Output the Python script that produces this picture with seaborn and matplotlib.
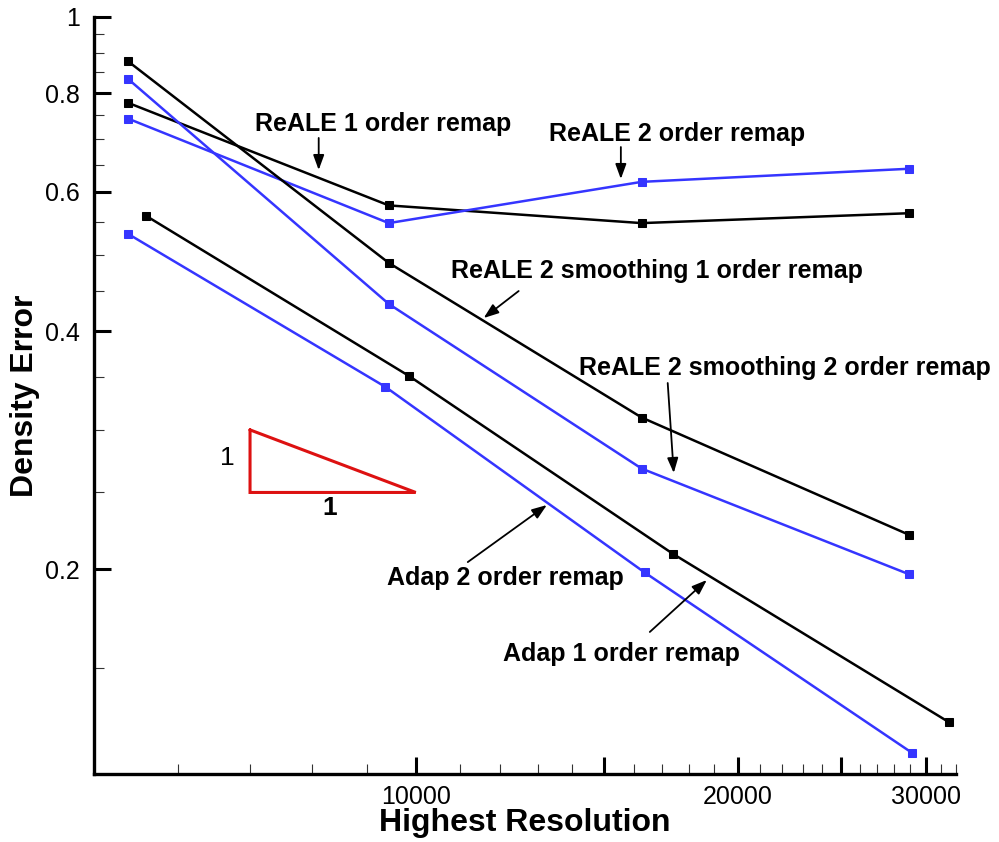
import matplotlib
matplotlib.use("Agg")
import matplotlib.pyplot as plt
from matplotlib.ticker import FixedLocator, NullFormatter, FixedFormatter
import seaborn as sns
import pandas as pd

# ---------------- data ----------------
x_reale = [5384, 9436, 16262, 28910]
x_adap1 = [5593, 9857, 17400, 31510]
x_adap2 = [5384, 9369, 16368, 29120]

reale_1 = [0.778, 0.577, 0.548, 0.564]
reale_2 = [0.743, 0.548, 0.618, 0.642]
reale_smooth_1 = [0.878, 0.488, 0.311, 0.221]
reale_smooth_2 = [0.834, 0.433, 0.268, 0.197]
adap_1 = [0.560, 0.351, 0.209, 0.128]
adap_2 = [0.531, 0.340, 0.198, 0.117]

series_names = ["ReALE 1 order remap", "ReALE 2 order remap",
                "ReALE 2 smoothing 1 order remap", "ReALE 2 smoothing 2 order remap",
                "Adap 1 order remap", "Adap 2 order remap"]
series_x = [x_reale, x_reale, x_reale, x_reale, x_adap1, x_adap2]
series_y = [reale_1, reale_2, reale_smooth_1, reale_smooth_2, adap_1, adap_2]

y_major = [0.2, 0.4, 0.6, 0.8, 1.0]
y_major_labels = ["0.2", "0.4", "0.6", "0.8", "1"]
y_minor = [0.15, 0.25, 0.3, 0.35, 0.45, 0.5, 0.55, 0.65, 0.7, 0.75, 0.85, 0.9, 0.95]
x_major = [10000, 15000, 20000, 25000, 30000]
x_major_labels = ["10000", "", "20000", "", "30000"]
x_minor = [v for v in range(6000, 33000, 1000) if v not in x_major]

# slope triangle
tri_x = [7000, 7000, 10000, 7000]
tri_y = [0.30, 0.25, 0.25, 0.30]

# annotations: text, text position, arrow tail, arrow tip
annotations = [
    ("ReALE 1 order remap", (9314, 0.7314), (8115, 0.7023), (8115, 0.6397)),
    ("ReALE 2 order remap", (17540, 0.7103), (15550, 0.684), (15550, 0.6232)),
    ("ReALE 2 smoothing 1 order remap", (16800, 0.4768), (12480, 0.4496), (11575, 0.4156)),
    ("ReALE 2 smoothing 2 order remap", (22130, 0.3593), (17200, 0.3439), (17425, 0.2646)),
    ("Adap 2 order remap", (12140, 0.1949), (11185, 0.2041), (13260, 0.241)),
    ("Adap 1 order remap", (15580, 0.1561), (16550, 0.1665), (18710, 0.1937)),
]

BLACK = "#000000"
BLUE = "#3535ff"
colors = [BLACK, BLUE, BLACK, BLUE, BLACK, BLUE]

# ---------------- plot ----------------
sns.set_style("ticks")
plt.rcParams["font.family"] = ["Liberation Sans", "DejaVu Sans"]
plt.rcParams.update({"text.color": "black", "axes.labelcolor": "black",
                     "xtick.color": "black", "ytick.color": "black",
                     "axes.edgecolor": "black"})

fig = plt.figure(figsize=(9.99, 8.42), dpi=100)
ax = fig.add_axes([0.0938, 0.0805, 0.8633, 0.8997])

for name, xs, ys, c in zip(series_names, series_x, series_y, colors):
    df = pd.DataFrame({"x": xs, "y": ys})
    sns.lineplot(data=df, x="x", y="y", ax=ax, color=c, lw=1.8, marker="s",
                 markersize=5.5, markeredgecolor=c, sort=False, estimator=None)

ax.plot(tri_x, tri_y, color="#dd1111", lw=2.2, solid_joinstyle="miter")
ax.text(6670, 0.2764, "1", fontsize=19, ha="center", va="center")
ax.text(8310, 0.2388, "1", fontsize=19, fontweight="bold", ha="center", va="center")

for txt, tpos, tail, tip in annotations:
    ax.text(tpos[0], tpos[1], txt, fontsize=18, fontweight="bold", ha="center", va="center")
    ax.annotate("", xy=tip, xytext=tail,
                arrowprops=dict(arrowstyle="-|>,head_length=0.9,head_width=0.33",
                                color="black", lw=1.3, shrinkA=0, shrinkB=0))

ax.set_xscale("log")
ax.set_yscale("log")
ax.set_xlim(5000, 32000)
ax.set_ylim(0.11, 1.0)

ax.xaxis.set_major_locator(FixedLocator(x_major))
ax.xaxis.set_major_formatter(FixedFormatter(x_major_labels))
ax.xaxis.set_minor_locator(FixedLocator(x_minor))
ax.xaxis.set_minor_formatter(NullFormatter())
ax.yaxis.set_major_locator(FixedLocator(y_major))
ax.yaxis.set_major_formatter(FixedFormatter(y_major_labels))
ax.yaxis.set_minor_locator(FixedLocator(y_minor))
ax.yaxis.set_minor_formatter(NullFormatter())

sns.despine(ax=ax)
for s in ["left", "bottom"]:
    ax.spines[s].set_linewidth(2.4)
    ax.spines[s].set_color("black")
ax.tick_params(which="major", direction="in", length=12, width=2.2, labelsize=18, pad=8,
               colors="black")
ax.tick_params(which="minor", direction="in", length=7, width=0.8, color="#333333")
ax.tick_params(axis="y", which="major", pad=10)

ax.set_xlabel("Highest Resolution", fontsize=23, fontweight="bold")
ax.set_ylabel("Density Error", fontsize=23, fontweight="bold")
ax.xaxis.set_label_coords(0.5, -0.045)
ax.yaxis.set_label_coords(-0.062, 0.5)

fig.savefig("out.png", dpi=100)
